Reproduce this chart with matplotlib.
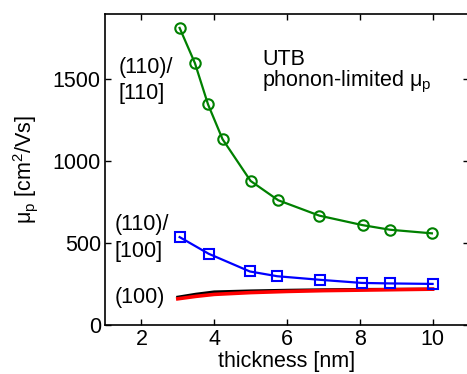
import matplotlib
matplotlib.use("Agg")
import matplotlib.pyplot as plt

plt.rcParams['font.family'] = ['Liberation Sans', 'DejaVu Sans']
plt.rcParams['mathtext.fontset'] = 'custom'
plt.rcParams['mathtext.rm'] = 'Liberation Sans'
plt.rcParams['mathtext.it'] = 'Liberation Sans'

# Data
x_110_110 = [3.05, 3.47, 3.83, 4.23, 5.0, 5.76, 6.89, 8.08, 8.83, 9.98]
mu_110_110 = [1815, 1600, 1348, 1135, 880, 762, 668, 610, 582, 560]

x_110_100 = [3.05, 3.85, 4.98, 5.73, 6.91, 8.06, 8.82, 10.0]
mu_110_100 = [537, 435, 327, 298, 276, 257, 254, 251]

x_100_black = [3.0, 3.5, 4.0, 5.0, 6.0, 7.0, 8.0, 9.0, 10.0]
mu_100_black = [170, 188, 202, 208, 212, 215, 217, 218, 219]

x_100_red = [3.0, 3.5, 4.0, 5.0, 6.0, 7.0, 8.0, 9.0, 10.0]
mu_100_red = [160, 175, 187, 198, 205, 210, 213, 216, 219]

xticks = [2, 4, 6, 8, 10]
yticks = [0, 500, 1000, 1500]

W, H = 467, 374
fig = plt.figure(figsize=(W / 100, H / 100), dpi=100)
left, right, top, bottom = 105, 469, 14, 325
ax = fig.add_axes([left / W, 1 - bottom / H, (right - left) / W, (bottom - top) / H])

fs = 15.5
ax.plot(x_100_black, mu_100_black, color='black', lw=2.2, zorder=2)
ax.plot(x_100_red, mu_100_red, color='#ff0000', lw=2.6, zorder=3)
ax.plot(x_110_100, mu_110_100, color='#0000ff', lw=1.6, marker='s', ms=6.5,
        mfc='none', mec='#0000ff', mew=1.5, zorder=4)
ax.plot(x_110_110, mu_110_110, color='#008000', lw=1.6, marker='o', ms=7.5,
        mfc='none', mec='#008000', mew=1.5, zorder=4)

ax.set_xlim(1, 11)
ax.set_ylim(0, 1900)
ax.set_xticks(xticks)
ax.set_yticks(yticks)
ax.tick_params(direction='in', length=4, width=1, labelsize=fs,
               top=True, right=True, pad=3)
for s in ax.spines.values():
    s.set_linewidth(1.2)

ax.set_xlabel('thickness [nm]', fontsize=fs)
ax.xaxis.set_label_coords((287 - left) / (right - left), -(362 - bottom) / (bottom - top) , transform=None)
ax.xaxis.set_label_coords(0.5, -(362 - bottom) / (bottom - top))
ax.xaxis.label.set_va('center')
ax.set_ylabel(r'$\mu_{\rm p}$ [cm$^{2}$/Vs]', fontsize=fs)
ax.yaxis.set_label_coords(-(left - 25) / (right - left), 0.5)
ax.yaxis.label.set_va('center')

def put(text, xp, yp, **kw):
    fig.text(xp / W, 1 - yp / H, text, fontsize=fs, ha='left', va='baseline', **kw)

put('(110)/', 119, 73)
put('[110]', 119, 99)
put('(110)/', 115, 230)
put('[100]', 115, 257)
put('(100)', 115, 303)
put('UTB', 262, 65)
put(r'phonon-limited $\mu_{\rm p}$', 262, 86)

fig.savefig('out.png', dpi=100)
